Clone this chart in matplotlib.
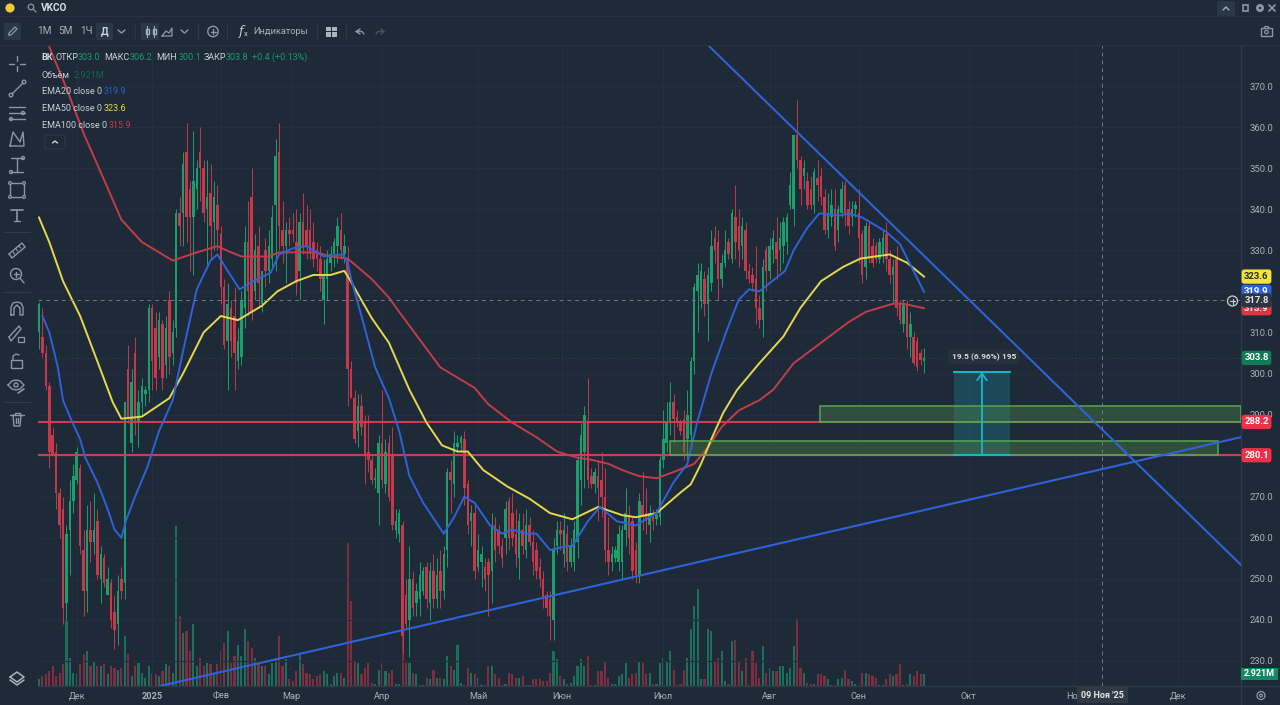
import numpy as np
from matplotlib import pyplot as plt
from matplotlib.patches import Rectangle, Circle, FancyBboxPatch
from matplotlib.transforms import blended_transform_factory

# --- Data -------------------------------------------------------------

opens = [
    310, 309, 305, 297, 285, 281, 271, 267, 244, 262,
    269, 274, 277, 257, 247, 262, 259, 264, 250, 255,
    246, 249, 242, 239, 250, 249, 301, 283, 305, 288,
    293, 295, 296, 316, 311, 304, 312, 302, 318, 305,
    311, 339, 339, 354, 345, 338, 345, 354, 350, 340,
    344, 337, 341, 334, 321, 308, 316, 314, 303, 304,
    316, 332, 343, 320, 331, 317, 330, 325, 328, 341,
    354, 335, 331, 335, 335, 332, 325, 337, 335, 335,
    332, 330, 328, 318, 323, 327, 329, 331, 335, 329,
    328, 301, 294, 286, 292, 288, 281, 279, 274, 271,
    283, 273, 283, 280, 262, 261, 263, 246, 240, 250,
    244, 245, 247, 253, 244, 252, 245, 252, 247, 257,
    276, 273, 282, 283, 284, 273, 264, 266, 253, 254,
    253, 254, 252, 263, 262, 258, 260, 269, 266, 261,
    255, 262, 257, 263, 259, 257, 253, 250, 246, 245,
    240, 258, 262, 256, 261, 254, 254, 259, 274, 281,
    288, 275, 273, 275, 274, 270, 257, 254, 255, 254,
    254, 262, 265, 264, 257, 251, 268, 266, 263, 265,
    264.5, 265, 279, 283, 288, 293, 289.5, 288, 289, 284,
    285, 303, 320, 318, 323, 317, 322, 333, 332, 323,
    327, 332, 328, 338, 336, 331, 335, 325, 324, 323,
    316, 313, 330, 325, 330, 332, 330, 331, 332, 341,
    340, 358, 352, 348, 347, 345, 341, 347.5, 348, 343,
    335, 338, 340, 335, 339, 346, 340, 338, 340, 339,
    334, 326, 336, 331, 331, 328, 329, 334, 328, 324,
    328, 317, 312, 317, 309, 309, 308, 305, 303,
]
highs = [
    317.5, 316, 307, 298, 287, 283, 272, 270, 263, 274,
    278, 282, 278, 262, 268, 269, 271, 267, 258, 256,
    253, 250, 246, 251, 253, 293, 307, 301, 309, 296,
    299, 297, 317, 317, 315, 315, 313, 314, 320, 313,
    340, 343, 354, 361, 347, 359, 352, 360, 352, 352,
    351, 347, 346, 336, 323, 322, 318, 321, 311, 320,
    336, 342, 350, 334, 336, 325, 333, 335, 341, 357,
    361, 342, 337, 338, 339, 340, 339, 344, 341, 340,
    337, 332, 331, 328, 330, 331, 333, 338, 339, 334,
    331, 303, 296, 295, 295, 290, 290, 280, 277, 285,
    296, 284, 285, 287, 267, 267, 264, 250, 258, 252,
    249, 254, 253, 254, 254, 256, 255, 257, 258, 277,
    279, 286, 285, 285, 286, 274, 268, 268, 261, 258,
    255, 255, 266, 265, 263, 260, 269, 270, 271, 267,
    266, 266, 267, 265, 262, 259, 255, 252, 247, 247,
    260, 264, 264, 266, 263, 260, 264, 280, 288, 292,
    299, 277, 277, 279, 281, 277, 265, 258, 258, 263,
    263, 272, 268, 265, 259, 271, 276, 272, 268, 267,
    267, 280, 291, 293, 298, 295, 291, 289, 291, 296,
    304, 322, 327, 327, 325, 326, 335, 336, 335, 329,
    335, 333, 340, 346, 340, 338, 337, 327, 326, 331,
    319, 328, 331, 333, 335, 338, 337, 338, 339, 349,
    358, 366.6, 353, 352, 349, 348, 350, 352, 350, 345,
    344, 345, 345, 341, 347, 347, 342, 342, 342, 345,
    335, 337, 337, 333, 332, 333, 335, 337, 330, 328,
    331, 318, 318, 318, 315, 310, 309, 306, 306.2,
]
lows = [
    306, 304, 296, 277, 280, 267, 260, 239, 240, 251,
    266, 273, 256, 241, 242, 254, 256, 250, 244, 248,
    246, 238, 233, 234, 245, 245, 288, 281, 285, 282,
    290, 292, 293, 296, 296, 301, 296, 299, 300, 302,
    309, 331, 331, 332, 325, 324, 340, 342, 337, 326,
    328, 330, 330, 317, 306, 296, 304, 296, 301, 302,
    311, 314, 313, 318, 316, 315, 321, 322, 326, 325,
    330, 327, 322, 331, 332, 319, 318, 329, 328, 328,
    326, 325, 320, 312, 318, 325, 326, 327, 328, 327,
    292, 294, 283, 282, 285, 273, 276, 273, 272, 263,
    272, 271, 269, 262, 260, 259, 232, 238, 231, 241,
    241, 241, 246, 243, 240, 243, 243, 243, 245, 253,
    266, 270, 281, 281, 268, 261, 258, 250, 252, 248,
    247, 241, 244, 254, 256, 253, 256, 257, 258, 253,
    250, 256, 255, 258, 251, 250, 248, 243, 241, 235,
    235, 256, 257, 253, 252, 253, 252, 255, 268, 272,
    272, 272, 271, 264, 265, 254, 251, 252, 254, 252,
    250, 258, 256, 250, 249, 249, 262, 261, 259, 262,
    263, 263, 277, 281, 285, 283, 287, 285, 279, 279,
    283, 300, 310, 316, 314, 308, 320, 327, 318, 321,
    326, 328, 327, 328, 326, 328, 323, 322, 320, 312,
    311, 309, 320, 323, 327, 323, 325, 327, 329, 340,
    336, 350, 341, 345, 340, 340, 339, 342, 341, 334,
    333, 336, 330, 332, 338, 336, 334, 336, 338, 327,
    322, 323, 327, 326, 327, 327, 327, 325, 322, 317,
    314, 312, 310, 306, 304, 302, 300.5, 302, 300.1,
]
closes = [
    317, 305, 297, 281, 280.5, 271, 263, 243, 261, 269,
    275, 281, 258, 247, 262, 259, 262, 251, 256, 249,
    250, 240, 237.5, 247, 247, 293, 289, 298, 288, 293,
    297, 296, 316, 303, 299, 313, 299, 311, 304, 310,
    339, 336, 351, 338, 338, 347, 350, 350, 339, 343,
    336, 343, 335, 321, 307, 317, 308, 305, 308, 318,
    332, 320, 315, 330, 322, 325, 325, 331, 338, 353,
    336, 331, 335, 334, 334, 322, 337, 331, 331, 329,
    328, 328, 323, 324, 328, 329, 332, 336, 330, 331,
    301, 294, 284, 292, 287, 280, 279, 274, 274.5, 283,
    274, 281, 270, 263, 264, 266, 236, 239, 250, 243,
    247, 251, 252, 245, 252, 245, 251, 247, 256, 276,
    274, 283, 283, 284.5, 272, 263, 266, 252, 257, 256,
    250, 251, 263, 257, 258, 255, 267, 260, 260, 256,
    264, 258, 263, 259, 254, 252, 250, 245, 243, 241,
    257, 262, 261, 262, 254, 258, 262, 279, 285, 290,
    274, 273, 276, 272, 270, 257, 254, 256, 257, 261,
    262, 266, 260, 252, 251, 269, 265, 264, 266, 264,
    265.5, 279, 284, 288, 293, 289, 288, 286, 281, 290,
    303, 321, 324, 325, 317, 324, 331, 330, 323, 327,
    330, 329, 339, 332, 330, 336, 325, 323, 322, 316,
    313, 326, 325, 331, 333, 328, 333, 337, 338, 346,
    358, 352, 345, 350, 341, 341, 349, 346, 343, 335,
    339, 341, 331, 340, 345, 339, 336, 340, 341, 333,
    324, 336, 328, 327, 328, 332, 333, 328, 324, 326,
    316, 313, 317, 309, 312, 302.5, 301.5, 303.4, 303.8,
]
# volume in millions
volumes = [
    1.6, 2.4, 2.8, 3.6, 4.9, 2.4, 3.2, 5.3, 15.8, 6.9,
    3.2, 2.8, 5.3, 7.7, 8.5, 4.9, 6.1, 4.9, 4.9, 5.3,
    2.8, 4.9, 4.5, 4.0, 4.5, 12.2, 7.7, 2.4, 4.9, 5.7,
    3.2, 2.0, 4.9, 3.2, 2.8, 2.4, 3.6, 5.3, 4.9, 3.2,
    38.9, 17.0, 13.0, 13.4, 8.5, 15.0, 4.9, 6.9, 4.9, 5.7,
    5.3, 3.2, 5.3, 8.5, 10.5, 13.4, 5.7, 7.3, 10.1, 7.3,
    13.8, 10.9, 9.3, 6.9, 5.3, 4.9, 4.9, 2.8, 5.7, 6.9,
    12.2, 4.9, 6.5, 1.6, 1.2, 3.6, 7.7, 5.3, 3.2, 2.8,
    1.6, 2.4, 2.8, 3.6, 2.8, 0.4, 2.4, 3.2, 3.2, 2.0,
    34.8,
    20.8, 6.1, 5.7, 2.8, 4.5, 5.7, 0.8, 0.4, 4.0, 5.7,
    3.6, 3.2, 4.0, 0.4, 0.4, 24.3, 5.7, 5.7, 3.2, 2.8,
    0.2, 0.2, 2.0, 1.6, 4.0, 2.0, 2.0, 1.6, 7.3, 4.9,
    4.0, 10.1, 0.8, 0.2, 4.5, 3.2, 2.8, 2.0, 0.2, 0.2,
    4.9, 4.9, 2.8, 2.0, 0.2, 0.4, 3.2, 2.8, 2.0, 2.0,
    2.4, 0.2, 0.2, 1.6, 1.6, 1.6, 1.2, 1.2, 3.2, 8.5,
    6.5, 2.4, 1.6, 0.4, 0.8, 2.4, 4.9, 6.5, 4.9, 7.3,
    0.2, 0.2, 3.6, 3.6, 6.1, 2.0, 0.4, 0.4, 2.4, 2.8,
    5.7, 2.0, 2.8, 3.2, 6.1, 5.7, 2.8, 3.2, 0.4, 0.4,
    5.7, 6.9, 6.1, 8.5, 4.0, 0.2, 0.4, 4.0, 6.9, 13.8,
    19.4, 23.5, 1.6, 1.6, 13.8, 13.4, 6.1, 6.9, 8.5, 1.2,
    0.4, 10.9, 11.3, 6.1, 3.6, 6.9, 0.2, 8.5, 5.7, 2.0,
    9.7, 3.2, 4.5, 3.6, 3.6, 4.9, 4.9, 3.2, 4.5, 9.7,
    16.2, 4.5, 3.2, 0.8, 0.4, 0.4, 2.8, 2.8, 2.4, 1.6, 0.2,
    0.2, 1.6, 2.0, 4.0, 1.6, 1.2, 0.4, 0.2, 3.2, 3.2,
    2.8, 2.4, 2.0, 0.2, 0.2, 1.6, 2.8, 2.4, 2.8, 5.3,
    0.2, 0.4, 2.8, 2.4, 3.6, 2.8, 2.921,
]

ema100_bar = [3, 8, 13, 18, 24, 30, 39, 46, 52, 56, 59, 67, 70, 81, 85, 90, 97, 102, 105, 109, 117, 122, 127, 131, 138,
              145, 151, 157, 161, 166, 170, 175, 180, 185, 191, 195, 199, 204, 210, 214, 220, 228, 236, 241, 249, 252, 258]
ema100_val = [379.5, 369.5, 358.5, 349, 337.5, 332, 327.5, 329.5, 331, 329.5, 328.5, 328.5, 329.5, 329.5, 328.5, 328, 323,
              318.5, 315, 310.5, 301.5, 299, 296.5, 292.5, 288, 284.5, 281, 279.5, 279, 278, 276.5, 275, 274.5, 276, 278,
              282, 287, 291, 293.5, 296, 302.5, 307.5, 312.5, 315, 317, 317, 315.9]
ema20_bar = [1, 3, 5.5, 7, 9.5, 12, 13.5, 17, 20, 22, 24, 25.5, 28, 31.5, 35, 39, 42, 46, 50, 52, 55, 58.5, 62.5, 67.5, 70,
             74, 78, 83, 88.5, 90, 91, 94.5, 98, 102, 105, 108, 112, 118, 121, 124, 127, 131.5, 135, 138, 142, 145, 149,
             154, 155.5, 160, 163.5, 168.5, 174, 180, 185, 189, 192, 196, 200.5, 204, 207, 210, 217.5, 220, 224, 227.5,
             233.5, 236, 240, 247, 251, 258]
ema20_val = [314, 310, 301.5, 293.5, 288.5, 284, 279.5, 273.5, 267, 262, 260, 264.5, 270, 277, 286, 293.5, 305.5, 320.5,
             327.5, 329, 325, 320.5, 322.5, 324.5, 329, 330.5, 331, 328.5, 329, 327, 323, 312.5, 301.5, 294, 286, 275,
             268.5, 261, 265, 270, 268.5, 263, 261, 262, 261, 261, 257, 258, 258, 264, 267.5, 264, 263, 266, 273.5, 278,
             288.5, 300, 310.5, 318, 320.5, 320, 325, 330, 335.5, 339, 338.5, 339, 338, 334.5, 331.5, 319.9]
ema50_bar = [0, 3, 7, 12, 17, 21.5, 24, 30, 38, 42, 48, 53, 58, 65, 69.5, 75, 80, 85, 89, 90.5, 97, 102, 108, 113, 117.5,
             122, 125, 129.5, 136.5, 143, 149, 155.5, 163, 170, 174, 180, 187, 190, 193, 196, 199.5, 203.5, 210, 217, 222,
             228, 234.5, 239.5, 248, 253, 258]
ema50_val = [338, 332, 322.5, 314, 303, 293, 289, 289.5, 294, 300, 310, 314, 313, 316.5, 320, 322.5, 324, 324, 325, 323,
             313.5, 307.5, 296, 288, 282.5, 281, 281, 276.5, 272.5, 269.5, 266, 264.5, 267.5, 265.5, 265, 266, 271, 273,
             278, 284, 290.5, 296, 302.5, 309, 316, 322.5, 326, 328, 329, 327, 323.6]

price_ticks = [230, 240, 250, 260, 270, 280, 290, 300, 310, 320, 330, 340, 350, 360, 370]
month_bars = [11, 33, 53, 73.5, 100, 128, 152.4, 182, 213, 239, 271, 302, 332]
month_labels = ["Дек", "2025", "Фев", "Мар", "Апр", "Май", "Июн", "Июл", "Авг", "Сен", "Окт", "Ноя", "Дек"]

support_levels = [288.2, 280.1]
falling_line_bar, falling_line_val = [195, 350.4], [380, 253.4]
rising_line_bar, rising_line_val = [35.3, 350.4], [223.9, 284.5]
zone_upper = (227.7, 350.4, 288.2, 292.1)
zone_lower = (184, 343.8, 280.1, 283.6)
measure = (266.8, 283, 280.1, 300.4)
cross_bar, cross_price = 310, 317.8

# --- Style ----------------------------------------

BG = "#1e2a38"
LINE = "#2c3a49"
TXT = "#a7b1bc"
ICON = "#8a97a5"
GREEN = "#1b9e6c"
RED = "#c5394a"
VGREEN = "#1c6f5b"
VRED = "#7e2f3f"
BLUE = "#2f62d6"
YELLOW = "#e6d84e"
EMARED = "#c23c4a"
CYAN = "#19b7c6"
VALGREEN = "#169a70"
FONT = "Roboto"
W, H = 1280, 705

plt.rcParams["font.family"] = [FONT, "DejaVu Sans"]

fig = plt.figure(figsize=(W / 100, H / 100), dpi=100, facecolor=BG)


def axes_rect(x0, y0, x1, y1):
    return [x0 / W, 1 - y1 / H, (x1 - x0) / W, (y1 - y0) / H]


n = len(closes)
assert len(opens) == n and len(highs) == n and len(lows) == n, (len(opens), len(highs), len(lows), n)
assert len(volumes) == n, (len(volumes), n)
bars = np.arange(n)
px_per_bar = (924 - 39) / (n - 1)
xlim = (-(39 - 38) / px_per_bar, (1241 - 39) / px_per_bar)
up = np.array(closes) >= np.array(opens)

# --- Volume ----------------------------------------

ax_vol = fig.add_axes(axes_rect(38, 45, 1241, 686), facecolor=BG, zorder=0)
ax_vol.bar(bars, volumes, width=0.62, color=[VGREEN if u else VRED for u in up], linewidth=0)
ax_vol.set_xlim(xlim)
ax_vol.set_ylim(0, 641 * 2.921 / 12)
ax_vol.axis("off")

# --- Price panel ----------------------------------------

ax = fig.add_axes(axes_rect(38, 45, 1241, 686), zorder=1)
ax.patch.set_alpha(0)
ax.set_xlim(xlim)
ax.set_ylim(223.9, 380)

for b in month_bars:
    ax.axvline(b, color="#222f3e", lw=0.8, zorder=0)
for p in price_ticks:
    ax.axhline(p, color="#222f3e", lw=0.8, zorder=0)
ax.axhline(303.8, color="#1f4a4a", lw=0.8, ls=(0, (1, 2)), zorder=0.5)

colors = [GREEN if u else RED for u in up]
ax.vlines(bars, lows, highs, colors=colors, lw=0.7, zorder=2)
ax.bar(bars, np.abs(np.array(closes) - np.array(opens)), bottom=np.minimum(opens, closes),
       width=0.72, color=colors, linewidth=0, zorder=2)

for level in support_levels:
    ax.axhline(level, color="#c93f50", lw=1.5, zorder=3)

ax.plot(ema100_bar, ema100_val, color=EMARED, lw=1.4, solid_joinstyle="round", zorder=4)
ax.plot(ema50_bar, ema50_val, color=YELLOW, lw=1.4, solid_joinstyle="round", zorder=4)
ax.plot(ema20_bar, ema20_val, color=BLUE, lw=1.4, solid_joinstyle="round", zorder=4)

ax.plot(falling_line_bar, falling_line_val, color=BLUE, lw=1.5, zorder=5)
ax.plot(rising_line_bar, rising_line_val, color=BLUE, lw=1.5, zorder=5)

for x0, x1, y0, y1 in (zone_upper, zone_lower):
    ax.add_patch(Rectangle((x0, y0), x1 - x0, y1 - y0, fc="#4e8a45", alpha=0.38, lw=0, zorder=3.5))
    ax.add_patch(Rectangle((x0, y0), x1 - x0, y1 - y0, fc="none", ec="#56a553", lw=1.1, zorder=4.5))

# measure tool
mx0, mx1, my0, my1 = measure
ax.add_patch(Rectangle((mx0, my0), mx1 - mx0, my1 - my0, fc=CYAN, alpha=0.22, lw=0, zorder=3.2))
ax.plot([mx0, mx1], [my1, my1], color=CYAN, lw=1.4, zorder=5)
ax.plot([mx0, mx1], [my0, my0], color=CYAN, lw=1.4, zorder=5)
ax.annotate("", xy=((mx0 + mx1) / 2, my1), xytext=((mx0 + mx1) / 2, my0),
            arrowprops=dict(arrowstyle="->,head_length=0.5,head_width=0.35", color=CYAN, lw=1.3, shrinkA=0, shrinkB=0),
            zorder=5)
ax.text((mx0 + mx1) / 2 + 0.5, 304, "19.5 (6.96%) 195", color="#d5dbe1", fontsize=6, fontweight="bold",
        ha="center", va="center", zorder=6,
        bbox=dict(boxstyle="round,pad=0.45", fc="#27313c", ec="none"))

# crosshair
ax.axhline(cross_price, color="#6f7a86", lw=0.7, ls=(0, (4, 4)), zorder=6)
ax.axvline(cross_bar, color="#6f7a86", lw=0.7, ls=(0, (4, 4)), zorder=6)

# axes
for side in ("top", "left"):
    ax.spines[side].set_visible(False)
for side in ("right", "bottom"):
    ax.spines[side].set_color(LINE)
    ax.spines[side].set_linewidth(1)
ax.yaxis.tick_right()
# 280.0 and 320.0 sit under the price tags in the reference
ax.set_yticks(price_ticks, ["" if p in (280, 320) else f"{p:.1f}" for p in price_ticks])
ax.set_xticks(month_bars, month_labels)
ax.tick_params(axis="y", length=0, pad=6, labelsize=6.8, labelcolor=TXT)
ax.tick_params(axis="x", length=0, pad=4, labelsize=6.6, labelcolor=TXT)
ax.get_xticklabels()[1].set_fontweight("bold")

tag_tr = blended_transform_factory(ax.transAxes, ax.transData)


def price_tag(price, text, fc, tc="white", z=7):
    ax.text(1 + 15.5 / 1203, price, text, transform=tag_tr, color=tc, fontsize=6.8, fontweight="bold",
            ha="center", va="center", zorder=z, clip_on=False,
            bbox=dict(boxstyle="round,pad=0.28", fc=fc, ec="none"))


price_tag(323.6, "323.6", "#f4e33c", "#2a2a20")
price_tag(319.9, "319.9", "#2b63e8", "white", 7)
price_tag(315.9, "315.9", "#e23345", "white", 7)
price_tag(317.8, "317.8", "#2c343f", "#e3e6ea", 8)
price_tag(303.8, "303.8", "#137a58")
price_tag(288.2, "288.2", "#ee3148")
price_tag(280.1, "280.1", "#ee3148")

# --- Window chrome, drawn in pixel coordinates ----------------------------------------

ui = fig.add_axes([0, 0, 1, 1], zorder=2)
ui.set_xlim(0, W)
ui.set_ylim(H, 0)
ui.axis("off")
ui.patch.set_alpha(0)


def seg(points, color=ICON, lw=1.0):
    xs, ys = zip(*points)
    ui.plot(xs, ys, color=color, lw=lw, solid_capstyle="round")


def ring(x, y, r, color=ICON, lw=1.0, fill="none"):
    ui.add_patch(Circle((x, y), r, fc=fill, ec=color, lw=lw))


def box(x0, y0, x1, y1, fc="#2a3746", ec="none", lw=0.8):
    ui.add_patch(FancyBboxPatch((x0 + 1, y0 + 1), x1 - x0 - 2, y1 - y0 - 2, boxstyle="round,pad=1",
                                fc=fc, ec=ec, lw=lw))


def label(x, y, s, color="#c9d0d7", size=6.5, weight="normal", ha="left"):
    ui.text(x, y, s, color=color, fontsize=size, fontweight=weight, ha=ha, va="center")


# bar separators
seg([(0, 16), (W, 16)], "#263342", 0.8)
seg([(0, 45), (W, 45)], "#263342", 0.8)

# top row
ring(10, 8, 4.2, "#f5c93c", 0.5, "#f5c93c")
ring(31, 7, 2.8, ICON, 0.9)
seg([(33, 9), (36, 12)], ICON, 0.9)
label(41, 8, "VKCO", "#d8dde3", 7.3, "bold")
box(1217, 1, 1235, 16)
seg([(1223, 10), (1226, 7), (1229, 10)], "#a7b1bc", 1.0)
ui.add_patch(Rectangle((1243, 5), 5, 5.5, fc="none", ec=ICON, lw=1.2))
ring(1260, 8, 2.6, ICON, 2.0)
seg([(1269, 5), (1275, 11)], ICON, 1.2)
seg([(1269, 11), (1275, 5)], ICON, 1.2)

# toolbar row
box(4, 23, 21, 40)
seg([(9, 35), (11, 35), (17, 29), (15, 27), (9, 33), (9, 35)], ICON, 0.9)
label(37, 31, "1M", TXT, 7.2)
label(58, 31, "5M", TXT, 7.2)
label(80, 31, "1Ч", TXT, 7.2)
box(96, 23, 113, 40)
label(104.5, 31, "Д", "#cfd5db", 7.4, "bold", "center")
seg([(118, 30), (121.5, 33), (125, 30)], ICON, 1.0)
box(141, 23, 159, 40)
for cx in (147, 154):
    seg([(cx, 26), (cx, 37)], "#a7b1bc", 0.8)
    ui.add_patch(Rectangle((cx - 1.5, 28.5), 3, 5.5, fc="none", ec="#a7b1bc", lw=1))
seg([(162, 36), (166, 31), (169, 33), (172, 28), (172, 36), (162, 36)], ICON, 0.9)
seg([(181, 30), (184.5, 33), (188, 30)], ICON, 1.0)
ring(213, 31.5, 5.2, ICON, 1.0)
seg([(210.5, 31.5), (215.5, 31.5)], ICON, 1.0)
seg([(213, 29), (213, 34)], ICON, 1.0)
ui.text(241, 31.5, "f", color="#c9d0d7", fontsize=9, style="italic", ha="center", va="center", family="DejaVu Serif")
label(244, 33.5, "x", "#c9d0d7", 5.5)
label(253, 31.5, "Индикаторы", TXT, 6.7)
for gx, gy in [(326, 26.5), (332, 26.5), (326, 32), (332, 32)]:
    ui.add_patch(Rectangle((gx, gy), 4.5, 4.5, fc="#aab4bf", ec="none"))
seg([(360, 29), (356, 31.5), (360, 34)], ICON, 1.0)
seg([(356, 31.5), (362, 31.5), (364, 34)], ICON, 1.0)
seg([(381, 29), (384, 31.5), (381, 34)], "#46535f", 1.0)
seg([(384, 31.5), (378, 31.5), (376, 34)], "#46535f", 1.0)
for sx in (135, 198, 227, 317, 346):
    seg([(sx, 24), (sx, 39)], "#2b3846", 0.8)
ui.add_patch(Rectangle((1261, 28), 11, 8, fc="none", ec=ICON, lw=1))
ring(1266.5, 32, 1.8, ICON, 0.9)
seg([(1264, 28), (1265, 26.5), (1268, 26.5), (1269, 28)], ICON, 0.9)

# left drawing tools
seg([(17, 56), (17, 61)]); seg([(17, 66), (17, 71)]); seg([(9, 63.5), (14, 63.5)]); seg([(20, 63.5), (25, 63.5)])
seg([(12, 94), (23, 83)]); ring(11, 95, 1.8); ring(24, 82, 1.8)
for ly in (107, 113, 119):
    seg([(9, ly), (25, ly)])
ring(23, 113, 1.5); ring(11, 119, 1.5)
seg([(10, 146), (13, 132), (20, 142), (23, 132), (24, 146), (10, 146)])
seg([(17, 158), (17, 172)]); seg([(11, 158), (23, 158)]); seg([(11, 172), (23, 172)])
ring(11, 172, 1.5); ring(23, 158, 1.5)
ui.add_patch(Rectangle((10, 183), 14, 14, fc="none", ec=ICON, lw=1))
for cx, cy in [(10, 183), (24, 183), (10, 197), (24, 197)]:
    ring(cx, cy, 1.4, ICON, 0.9, BG)
seg([(11, 210), (23, 210)], ICON, 1.2); seg([(17, 210), (17, 221)], ICON, 1.2); seg([(14, 221), (20, 221)], ICON, 1.0)
seg([(4, 232), (30, 232)], "#2f3c4a", 0.8)
seg([(9, 254), (22, 243), (25, 247), (12, 258), (9, 254)])
for t in (13, 16, 19):
    seg([(t, 252 - (t - 13)), (t + 1.5, 254 - (t - 13))], ICON, 0.8)
ring(16, 274, 5.5); seg([(20, 278), (24, 283)]); seg([(13.5, 274), (18.5, 274)]); seg([(16, 271.5), (16, 276.5)])
seg([(4, 292), (30, 292)], "#2f3c4a", 0.8)
seg([(11, 315), (11, 307), (13, 303), (17, 302), (21, 303), (23, 307), (23, 315), (20, 315), (20, 308), (17, 305),
     (14, 308), (14, 315), (11, 315)])
seg([(9, 337), (11, 341), (21, 329), (19, 326), (9, 337)]); ui.add_patch(Rectangle((18, 337), 6, 5, fc="none", ec=ICON, lw=0.9))
ui.add_patch(Rectangle((11, 360), 11, 8, fc="none", ec=ICON, lw=1)); seg([(13, 360), (13, 356), (16, 354), (19, 355)])
ring(16, 385, 2.0); seg([(8, 385), (12, 381), (16, 380), (20, 381), (24, 385), (20, 389), (16, 390), (12, 389), (8, 385)])
seg([(18, 393), (24, 389)], ICON, 1.2)
seg([(4, 402), (30, 402)], "#2f3c4a", 0.8)
seg([(10, 415), (24, 415)]); seg([(13, 415), (14, 426), (20, 426), (21, 415)]); seg([(14.5, 415), (14.5, 413), (19.5, 413), (19.5, 415)])
seg([(16, 418), (16, 423)]); seg([(18, 418), (18, 423)])
seg([(10, 677), (17, 672), (24, 677), (17, 682), (10, 677)], "#aab4bf", 1.1)
seg([(10, 680), (17, 685), (24, 680)], "#aab4bf", 1.1)

# legend block
label(41, 57.5, "ВК", "#d8dde3", 6.5, "bold")
label(55, 57.5, "ОТКР")
label(78, 57.5, "303.0", VALGREEN)
label(104.5, 57.5, "МАКС")
label(130, 57.5, "306.2", VALGREEN)
label(156, 57.5, "МИН")
label(178.5, 57.5, "300.1", VALGREEN)
label(204, 57.5, "ЗАКР")
label(226, 57.5, "303.8", VALGREEN)
label(252.5, 57.5, "+0.4 (+0.13%)", VALGREEN)
label(42, 75, "Объём")
label(74, 75, "2.921M", "#126553")
label(42, 92, "EMA20 close 0")
label(104, 92, "319.9", "#2b5fd4")
label(42, 108.5, "EMA50 close 0")
label(104, 108.5, "323.6", "#e6d84e")
label(42, 125.5, "EMA100 close 0")
label(109, 125.5, "315.9", "#c23c4a")
box(45, 135, 65, 149, fc="#1e2a38", ec="#2b3846")
seg([(52.5, 143), (55, 141), (57.5, 143)], "#c9d0d7", 1.0)

# price scale extras
ring(1232.5, 301, 5, "#c9d0d7", 0.9, "#27313c")
seg([(1230, 301), (1235, 301)], "#c9d0d7", 0.8)
seg([(1232.5, 298.5), (1232.5, 303.5)], "#c9d0d7", 0.8)
box(1241, 668, 1278, 680, fc="#138a62")
label(1259.5, 674, "2.921M", "white", 6.5, "bold", "center")
seg([(1241, 686), (W, 686)], LINE, 1)
seg([(1241, 686), (1241, H)], LINE, 1)
ring(1261, 695.5, 4, ICON, 0.9)
ring(1261, 695.5, 1.4, ICON, 0.9)

# crosshair date tag
box(1077, 686, 1128, 703, fc="#313944")
label(1102.5, 695, "09 Ноя '25", "#e3e6ea", 6.5, "bold", "center")

fig.savefig("out.png", dpi=100, facecolor=BG)
